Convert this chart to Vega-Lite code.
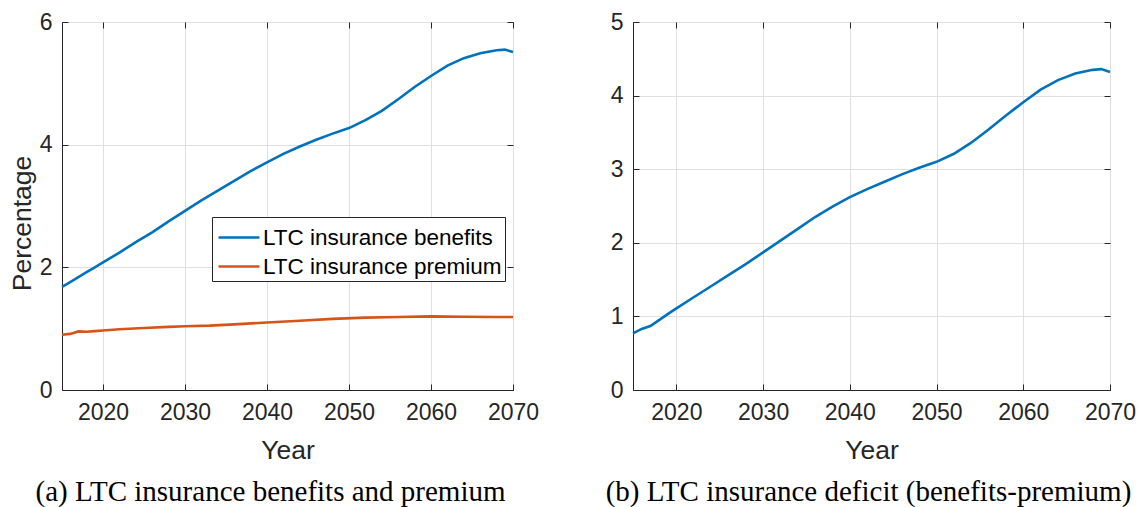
{
  "$schema": "https://vega.github.io/schema/vega-lite/v6.json",
  "background": "white",
  "padding": {"left": 8, "top": 10, "right": 0, "bottom": 0},
  "datasets": {
    "ab": [
      {"year": 2015, "series": "LTC insurance benefits", "value": 1.68},
      {"year": 2016, "series": "LTC insurance benefits", "value": 1.76},
      {"year": 2017, "series": "LTC insurance benefits", "value": 1.84},
      {"year": 2018, "series": "LTC insurance benefits", "value": 1.92},
      {"year": 2019, "series": "LTC insurance benefits", "value": 2.0},
      {"year": 2020, "series": "LTC insurance benefits", "value": 2.08},
      {"year": 2022, "series": "LTC insurance benefits", "value": 2.24},
      {"year": 2024, "series": "LTC insurance benefits", "value": 2.41},
      {"year": 2026, "series": "LTC insurance benefits", "value": 2.57},
      {"year": 2028, "series": "LTC insurance benefits", "value": 2.75},
      {"year": 2030, "series": "LTC insurance benefits", "value": 2.92},
      {"year": 2032, "series": "LTC insurance benefits", "value": 3.09},
      {"year": 2034, "series": "LTC insurance benefits", "value": 3.25},
      {"year": 2036, "series": "LTC insurance benefits", "value": 3.41},
      {"year": 2038, "series": "LTC insurance benefits", "value": 3.57},
      {"year": 2040, "series": "LTC insurance benefits", "value": 3.71},
      {"year": 2042, "series": "LTC insurance benefits", "value": 3.85},
      {"year": 2044, "series": "LTC insurance benefits", "value": 3.97},
      {"year": 2046, "series": "LTC insurance benefits", "value": 4.08},
      {"year": 2048, "series": "LTC insurance benefits", "value": 4.18},
      {"year": 2050, "series": "LTC insurance benefits", "value": 4.27},
      {"year": 2052, "series": "LTC insurance benefits", "value": 4.4},
      {"year": 2054, "series": "LTC insurance benefits", "value": 4.55},
      {"year": 2056, "series": "LTC insurance benefits", "value": 4.74},
      {"year": 2058, "series": "LTC insurance benefits", "value": 4.94},
      {"year": 2060, "series": "LTC insurance benefits", "value": 5.12},
      {"year": 2062, "series": "LTC insurance benefits", "value": 5.29},
      {"year": 2064, "series": "LTC insurance benefits", "value": 5.41},
      {"year": 2066, "series": "LTC insurance benefits", "value": 5.49},
      {"year": 2068, "series": "LTC insurance benefits", "value": 5.54},
      {"year": 2069, "series": "LTC insurance benefits", "value": 5.55},
      {"year": 2070, "series": "LTC insurance benefits", "value": 5.51},
      {"year": 2015, "series": "LTC insurance premium", "value": 0.9},
      {"year": 2016, "series": "LTC insurance premium", "value": 0.915},
      {"year": 2017, "series": "LTC insurance premium", "value": 0.955},
      {"year": 2018, "series": "LTC insurance premium", "value": 0.95},
      {"year": 2019, "series": "LTC insurance premium", "value": 0.96},
      {"year": 2020, "series": "LTC insurance premium", "value": 0.97},
      {"year": 2022, "series": "LTC insurance premium", "value": 0.99},
      {"year": 2025, "series": "LTC insurance premium", "value": 1.01},
      {"year": 2028, "series": "LTC insurance premium", "value": 1.03},
      {"year": 2030, "series": "LTC insurance premium", "value": 1.04},
      {"year": 2033, "series": "LTC insurance premium", "value": 1.05},
      {"year": 2036, "series": "LTC insurance premium", "value": 1.07},
      {"year": 2040, "series": "LTC insurance premium", "value": 1.1},
      {"year": 2044, "series": "LTC insurance premium", "value": 1.13},
      {"year": 2048, "series": "LTC insurance premium", "value": 1.16},
      {"year": 2052, "series": "LTC insurance premium", "value": 1.18},
      {"year": 2056, "series": "LTC insurance premium", "value": 1.19},
      {"year": 2060, "series": "LTC insurance premium", "value": 1.2},
      {"year": 2064, "series": "LTC insurance premium", "value": 1.195},
      {"year": 2068, "series": "LTC insurance premium", "value": 1.19},
      {"year": 2070, "series": "LTC insurance premium", "value": 1.19}
    ],
    "def": [
      {"year": 2015, "value": 0.77},
      {"year": 2016, "value": 0.83},
      {"year": 2017, "value": 0.87},
      {"year": 2018, "value": 0.95},
      {"year": 2019, "value": 1.03},
      {"year": 2020, "value": 1.11},
      {"year": 2022, "value": 1.26},
      {"year": 2024, "value": 1.41},
      {"year": 2026, "value": 1.56},
      {"year": 2028, "value": 1.71},
      {"year": 2030, "value": 1.87},
      {"year": 2032, "value": 2.03},
      {"year": 2034, "value": 2.19},
      {"year": 2036, "value": 2.35},
      {"year": 2038, "value": 2.49},
      {"year": 2040, "value": 2.62},
      {"year": 2042, "value": 2.73},
      {"year": 2044, "value": 2.83},
      {"year": 2046, "value": 2.93},
      {"year": 2048, "value": 3.02},
      {"year": 2050, "value": 3.1},
      {"year": 2052, "value": 3.21},
      {"year": 2054, "value": 3.36},
      {"year": 2056, "value": 3.54},
      {"year": 2058, "value": 3.73},
      {"year": 2060, "value": 3.91},
      {"year": 2062, "value": 4.08},
      {"year": 2064, "value": 4.21},
      {"year": 2066, "value": 4.3},
      {"year": 2068, "value": 4.35},
      {"year": 2069, "value": 4.36},
      {"year": 2070, "value": 4.32}
    ]
  },
  "spacing": 120,
  "bounds": "flush",
  "resolve": {"scale": {"color": "independent"}, "legend": {"color": "independent"}},
  "hconcat": [
    {
      "width": 451,
      "height": 368,
      "title": {"text": "(a) LTC insurance benefits and premium", "orient": "bottom", "anchor": "middle", "frame": "group", "dx": -17, "offset": 14},
      "data": {"name": "ab"},
      "layer": [
        {
          "mark": {"type": "line", "strokeWidth": 2.6},
          "encoding": {
            "x": {"field": "year", "type": "quantitative", "scale": {"domain": [2015, 2070], "nice": false, "zero": false},
                  "axis": {"values": [2020, 2030, 2040, 2050, 2060, 2070], "format": "d", "title": "Year", "titleY": 68, "titleBaseline": "alphabetic"}},
            "y": {"field": "value", "type": "quantitative", "scale": {"domain": [0, 6], "nice": false},
                  "axis": {"values": [0, 2, 4, 6], "labelPadding": 16, "title": "Percentage", "titleX": -32, "titleY": 201, "titleBaseline": "alphabetic", "titleAlign": "center", "titleAngle": 270}},
            "color": {"field": "series", "type": "nominal",
                      "scale": {"domain": ["LTC insurance benefits", "LTC insurance premium"], "range": ["#0072BD", "#D95319"]},
                      "legend": {"title": null, "orient": "none", "legendX": 150, "legendY": 195,
                                 "symbolType": "M-1.28,0L1.28,0", "symbolSize": 1024, "symbolStrokeWidth": 2.6,
                                 "symbolOffset": 6.5, "labelOffset": 6.5, "labelFontSize": 22.5, "labelFont": "Liberation Sans",
                                 "labelColor": "#000000", "padding": 3, "rowPadding": 0, "strokeColor": "#262626",
                                 "fillColor": "#ffffff", "cornerRadius": 0, "labelLimit": 400}}
          }
        },
        {
          "mark": {"type": "line", "opacity": 0},
          "encoding": {
            "x": {"field": "year", "type": "quantitative", "scale": {"domain": [2015, 2070], "nice": false, "zero": false},
                  "axis": {"orient": "top", "values": [2020, 2030, 2040, 2050, 2060, 2070], "labels": false, "grid": false, "domain": false, "title": null}},
            "y": {"field": "value", "type": "quantitative", "scale": {"domain": [0, 6], "nice": false},
                  "axis": {"orient": "right", "values": [0, 2, 4, 6], "labels": false, "grid": false, "domain": false, "title": null}},
            "detail": {"field": "series"}
          }
        }
      ],
      "resolve": {"axis": {"x": "independent", "y": "independent"}}
    },
    {
      "width": 477,
      "height": 368,
      "title": {"text": "(b) LTC insurance deficit (benefits-premium)", "orient": "bottom", "anchor": "middle", "frame": "group", "dx": -3, "offset": 14},
      "data": {"name": "def"},
      "layer": [
        {
          "mark": {"type": "line", "strokeWidth": 2.6, "color": "#0072BD"},
          "encoding": {
            "x": {"field": "year", "type": "quantitative", "scale": {"domain": [2015, 2070], "nice": false, "zero": false},
                  "axis": {"values": [2020, 2030, 2040, 2050, 2060, 2070], "format": "d", "title": "Year", "titleY": 68, "titleBaseline": "alphabetic"}},
            "y": {"field": "value", "type": "quantitative", "scale": {"domain": [0, 5], "nice": false},
                  "axis": {"values": [0, 1, 2, 3, 4, 5], "labelPadding": 16, "title": null}}
          }
        },
        {
          "mark": {"type": "line", "opacity": 0},
          "encoding": {
            "x": {"field": "year", "type": "quantitative", "scale": {"domain": [2015, 2070], "nice": false, "zero": false},
                  "axis": {"orient": "top", "values": [2020, 2030, 2040, 2050, 2060, 2070], "labels": false, "grid": false, "domain": false, "title": null}},
            "y": {"field": "value", "type": "quantitative", "scale": {"domain": [0, 5], "nice": false},
                  "axis": {"orient": "right", "values": [0, 1, 2, 3, 4, 5], "labels": false, "grid": false, "domain": false, "title": null}}
          }
        }
      ],
      "resolve": {"axis": {"x": "independent", "y": "independent"}}
    }
  ],
  "config": {
    "font": "Liberation Sans",
    "view": {"stroke": "#262626", "strokeWidth": 1},
    "axis": {
      "labelFont": "Liberation Sans", "labelFontSize": 23, "labelColor": "#262626", "labelPadding": 17,
      "titleFont": "Liberation Sans", "titleFontSize": 26.5, "titleFontWeight": "normal", "titleColor": "#262626",
      "domainColor": "#262626", "domainWidth": 1, "tickColor": "#262626", "tickSize": -6, "tickWidth": 1,
      "gridColor": "#dfdfdf", "gridWidth": 1, "labelOverlap": false, "labelFlush": false
    },
    "title": {"font": "Liberation Serif", "fontSize": 29, "fontWeight": "normal", "color": "#000000"}
  }
}
